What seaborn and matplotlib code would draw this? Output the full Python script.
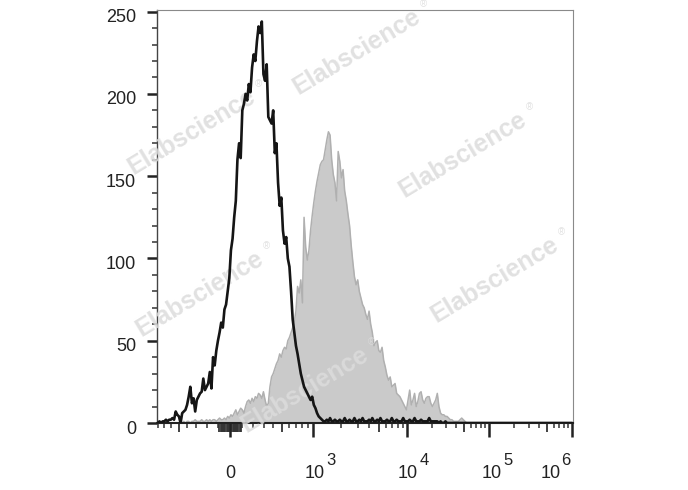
import numpy as np
import matplotlib
matplotlib.use("Agg")
import matplotlib.pyplot as plt
from matplotlib.transforms import ScaledTranslation
import seaborn as sns

# ── DATA: counts per display channel (256 bins of 4 channels, 0-1024) ──
channels = np.arange(2, 1024, 4)

isotype_counts = [
    0, 1, 0, 1, 1, 2, 1, 2, 2, 3,             # 0
    2, 7, 5, 4, 0, 6, 7, 8, 11, 16,           # 10
    22, 12, 15, 7, 14, 16, 18, 19, 27, 20,    # 20
    22, 24, 31, 21, 40, 35, 44, 50, 55, 61,   # 30
    58, 69, 72, 80, 88, 105, 112, 125, 135, 160,      # 40
    170, 161, 190, 194, 200, 196, 206, 201, 216, 224,  # 50
    220, 232, 241, 237, 244, 212, 208, 218, 186, 184,  # 60
    182, 190, 164, 170, 146, 132, 137, 117, 109, 113,  # 70
    100, 95, 80, 63, 55, 47, 42, 36, 30, 26,  # 80
    22, 20, 18, 16, 14, 16, 11, 9, 6, 4,      # 90
    3, 2, 1, 1, 2, 1, 3, 1, 1, 2,             # 100
    1, 1, 2, 1, 1, 3, 1, 1, 2, 1,             # 110
    1, 3, 1, 1, 2, 1, 3, 1, 1, 1,             # 120
    2, 1, 3, 1, 1, 2, 1, 3, 1, 1,             # 130
    1, 2, 1, 1, 3, 1, 1, 2, 1, 1,             # 140
    1, 3, 1, 1, 1, 2, 1, 1, 3, 1,             # 150
    1, 1, 2, 1, 1, 1, 1, 3, 1, 1,             # 160
    1, 1, 1, 0, 1, 0, 0, 1, 0, 0,             # 170
    0, 0, 0, 0, 0, 0, 0, 0, 0, 0,             # 180
    0, 0, 0, 0, 0, 0, 0, 0, 0, 0,             # 190
    0, 0, 0, 0, 0, 0, 0, 0, 0, 0,             # 200
    0, 0, 0, 0, 0, 0, 0, 0, 0, 0,             # 210
    0, 0, 0, 0, 0, 0, 0, 0, 0, 0,             # 220
    0, 0, 0, 0, 0, 0, 0, 0, 0, 0,             # 230
    0, 0, 0, 0, 0, 0, 0, 0, 0, 0,             # 240
    0, 0, 0, 0, 0, 0,                         # 250
]

stained_counts = [
    0, 0, 0, 0, 0, 0, 0, 0, 0, 0,             # 0
    0, 0, 0, 0, 0, 0, 1, 0, 1, 1,             # 10
    0, 1, 1, 2, 1, 1, 1, 2, 1, 1,             # 20
    2, 1, 2, 1, 2, 2, 1, 2, 3, 2,             # 30
    2, 3, 2, 4, 3, 5, 4, 6, 8, 5,             # 40
    7, 9, 8, 6, 10, 13, 14, 12, 15, 13,       # 50
    16, 15, 18, 17, 15, 19, 14, 10, 12, 22,   # 60
    28, 30, 33, 36, 38, 42, 40, 44, 46, 45,   # 70
    50, 52, 55, 58, 62, 68, 83, 79, 87, 73,   # 80
    125, 107, 99, 105, 117, 126, 134, 141, 147, 152,   # 90
    157, 159, 160, 166, 172, 177, 175, 160, 151, 146,  # 100
    135, 165, 159, 149, 154, 141, 135, 127, 120, 108,  # 110
    98, 89, 84, 87, 80, 76, 72, 70, 66, 63,   # 120
    68, 60, 55, 47, 49, 50, 44, 43, 46, 38,   # 130
    34, 29, 26, 28, 22, 23, 24, 18, 17, 16,   # 140
    14, 12, 10, 8, 14, 20, 11, 14, 18, 10,    # 150
    13, 18, 19, 14, 12, 15, 16, 16, 12, 10,   # 160
    12, 14, 18, 10, 6, 5, 5, 4, 4, 3,         # 170
    2, 2, 1, 1, 1, 1, 2, 3, 2, 1,             # 180
    0, 0, 0, 0, 0, 0, 0, 0, 0, 0,             # 190
    0, 0, 0, 0, 0, 0, 0, 0, 0, 0,             # 200
    0, 0, 0, 0, 0, 0, 0, 0, 0, 0,             # 210
    0, 0, 0, 0, 0, 0, 0, 0, 0, 0,             # 220
    0, 0, 0, 0, 0, 0, 0, 0, 0, 0,             # 230
    0, 0, 0, 0, 0, 0, 0, 0, 0, 0,             # 240
    0, 0, 0, 0, 0, 0,                         # 250
]

# biexponential display: channel of zero and of each decade
zero_channel = 180
decade_values = [1e3, 1e4, 1e5, 1e6]
decade_channels = [384, 615, 817, 1022]

x_tick_values = [0, 1e3, 1e4, 1e5, 1e6]
x_tick_bases = ["0", "10", "10", "10", "10"]
x_tick_exps = ["", "3", "4", "5", "6"]
y_ticks = [0, 50, 100, 150, 200, 250]

watermark = "Elabscience"
watermark_centers = [(357, 52), (192, 132), (463, 155), (200, 294), (495, 280), (305, 390)]


def to_channel(v):
    v = np.asarray(v, dtype=float)
    scale = (decade_channels[0] - zero_channel) / np.arcsinh(1e3 / 450)
    near = zero_channel + scale * np.arcsinh(v / 450)
    far = np.interp(np.log10(np.clip(v, 1e3, None)), np.log10(decade_values), decade_channels)
    return np.where(np.abs(v) <= 1e3, near, far)


# ── STYLE ──
sns.set_style("ticks")
plt.rcParams["font.family"] = ["Liberation Sans", "DejaVu Sans"]

W, H = 688, 490
fig = plt.figure(figsize=(W / 100, H / 100), dpi=100)
ax = fig.add_axes([157 / W, 67 / H, 416 / W, 413 / H])

# ── HISTOGRAMS ──
ax.fill_between(channels, stained_counts, color="#cacaca", lw=0, zorder=1)
sns.lineplot(x=channels, y=stained_counts, color="#b0b0b0", lw=1.1, ax=ax, zorder=2)
sns.lineplot(x=channels, y=isotype_counts, color="#151515", lw=1.9, ax=ax, zorder=4)

ax.set_xlim(0, 1024)
ax.set_ylim(0, 251)
ax.set_xlabel("")
ax.set_ylabel("")

# ── Y AXIS ──
ax.set_yticks(y_ticks)
ax.set_yticks(np.arange(0, 251, 10), minor=True)
ax.tick_params(axis="y", which="major", length=7, width=1.8, pad=8,
               labelsize=13, colors="#222222")
ax.tick_params(axis="y", which="minor", length=3.6, width=1.1, colors="#333333")
for lab in ax.get_yticklabels():
    lab.set_transform(lab.get_transform() + ScaledTranslation(0, -0.04, fig.dpi_scale_trans))

# ── X AXIS (logicle-like ticks) ──
minor_vals = [s * h for h in (100, 200, 300, 400, 600, 700, 800, 900) for s in (-1, 1)]
minor_vals += [k * 10 ** n for n in (3, 4, 5) for k in (2, 3, 4, 6, 7, 8, 9)]
mid_vals = [-500, 500, 5e3, 5e4, 5e5] + [s * t for t in range(10, 100, 10) for s in (-1, 1)]


def inside(vals):
    ch = to_channel(vals)
    return ch[(ch >= 0) & (ch <= 1024)]


ax.set_xticks(to_channel(x_tick_values))
ax.set_xticks(inside(minor_vals), minor=True)
ax.tick_params(axis="x", which="major", length=10, width=1.8, labelbottom=False,
               colors="#222222")
ax.tick_params(axis="x", which="minor", length=3.6, width=1.1, colors="#333333")

sec = ax.secondary_xaxis("bottom")
sec.set_xticks(inside(mid_vals))
sec.tick_params(axis="x", length=6.5, width=1.3, labelbottom=False, colors="#333333")
sec.spines["bottom"].set_visible(False)

shifts = [0, 2, 1, 3, -22]
for v, base, exp, dx in zip(x_tick_values, x_tick_bases, x_tick_exps, shifts):
    ax.annotate(base, xy=(float(to_channel(v)), 0), xycoords=("data", "axes fraction"),
                xytext=(dx, -50), textcoords="offset pixels", ha="center", va="center",
                fontsize=13, color="#222222", annotation_clip=False)
    if exp:
        ax.annotate(exp, xy=(float(to_channel(v)), 0), xycoords=("data", "axes fraction"),
                    xytext=(dx + 16, -37), textcoords="offset pixels", ha="center",
                    va="center", fontsize=12, color="#222222", annotation_clip=False)

# ── SPINES ──
for side in ("top", "right"):
    ax.spines[side].set_color("#8a8a8a")
    ax.spines[side].set_linewidth(0.8)
ax.spines["left"].set_color("#444444")
ax.spines["left"].set_linewidth(1.0)
ax.spines["bottom"].set_color("#222222")
ax.spines["bottom"].set_linewidth(1.5)

# ── WATERMARKS ──
for cx, cy in watermark_centers:
    ax.annotate(watermark, xy=(cx, H - cy), xycoords="figure pixels", rotation=31,
                rotation_mode="anchor", ha="center", va="center", fontsize=18,
                fontweight="bold", color="#dcdcdc", alpha=0.85, zorder=3,
                annotation_clip=False)
    ax.annotate("®", xy=(cx, H - cy), xycoords="figure pixels", xytext=(66, 48),
                textcoords="offset pixels", ha="center", va="center", fontsize=7,
                color="#dcdcdc", alpha=0.85, zorder=3, annotation_clip=False)

fig.savefig("out.png", dpi=100)
plt.close()
